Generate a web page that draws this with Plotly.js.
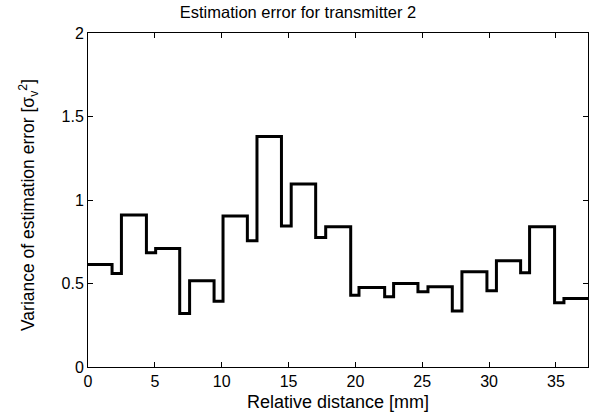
<!DOCTYPE html>
<html>
<head>
<meta charset="utf-8">
<script src="https://cdn.plot.ly/plotly-3.0.1.min.js"></script>
<style>html,body{margin:0;padding:0;background:#fff;}#chart{width:596px;height:419px;}</style>
</head>
<body>
<div id="chart"></div>
<script>
// Step start positions (mm) and variance levels
var stepStarts = [0, 1.8, 2.5, 4.37, 5.06, 6.86, 7.6, 9.43, 10.1, 11.92, 12.64, 14.47, 15.2, 17.03, 17.78, 19.65, 20.27, 22.19, 22.86, 24.68, 25.43, 27.25, 27.97, 29.84, 30.55, 32.36, 33.03, 34.9, 35.6, 37.4];
var levels = [0.614, 0.56, 0.91, 0.684, 0.71, 0.32, 0.516, 0.394, 0.904, 0.756, 1.38, 0.844, 1.096, 0.776, 0.84, 0.43, 0.476, 0.42, 0.5, 0.45, 0.48, 0.336, 0.57, 0.456, 0.636, 0.564, 0.84, 0.384, 0.41, 0.41];
var xTicks = [0, 5, 10, 15, 20, 25, 30, 35];
var yTicks = [0, 0.5, 1, 1.5, 2];

var font = {family: 'Liberation Sans, Arial, sans-serif', size: 16, color: '#000'};

var trace = {
  x: stepStarts,
  y: levels,
  type: 'scatter',
  mode: 'lines',
  line: {shape: 'hv', color: '#000', width: 3},
  hoverinfo: 'skip'
};

var axisCommon = {
  showline: true, linecolor: '#000', linewidth: 1, mirror: 'ticks',
  ticks: 'inside', ticklen: 5, tickcolor: '#000', tickwidth: 1,
  showgrid: false, zeroline: false, tickfont: font
};

var layout = {
  width: 596, height: 419,
  margin: {l: 88, r: 8, t: 33, b: 52},
  paper_bgcolor: '#fff', plot_bgcolor: '#fff',
  font: font,
  showlegend: false,
  title: {text: 'Estimation error for transmitter 2', font: {family: font.family, size: 16.5, color: '#000'}, x: 0.5, xref: 'container', y: 0.97, yref: 'container', yanchor: 'middle'},
  xaxis: Object.assign({}, axisCommon, {
    range: [0, 37.4], tickvals: xTicks, ticktext: xTicks.map(String),
    title: {text: 'Relative distance [mm]', font: {family: font.family, size: 18, color: '#000'}, standoff: 6}
  }),
  yaxis: Object.assign({}, axisCommon, {
    range: [0, 2], tickvals: yTicks, ticktext: yTicks.map(String)
  }),
  annotations: [{
    text: 'Variance of estimation error [σ<sub>v</sub><sup>2</sup>]',
    textangle: -90, showarrow: false,
    xref: 'paper', yref: 'paper', x: -0.12, y: 0.485,
    xanchor: 'center', yanchor: 'middle',
    font: {family: font.family, size: 17.5, color: '#000'}
  }]
};

Plotly.newPlot('chart', [trace], layout, {displayModeBar: false, staticPlot: true});
</script>
</body>
</html>
